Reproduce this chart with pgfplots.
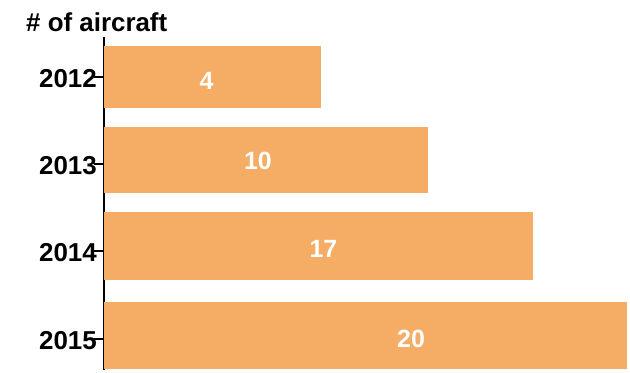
\documentclass[border=0pt]{standalone}
\usepackage{pgfplots}
\pgfplotsset{compat=1.18}
\usepackage{fontspec}
\setmainfont{Liberation Sans}
\definecolor{barc}{HTML}{F5AD66}
\begin{document}
\begin{tikzpicture}
\useasboundingbox (-104bp,-3bp) rectangle (526bp,370bp);
\begin{axis}[
  scale only axis, width=526bp, height=333bp,
  xmin=0, xmax=526, ymin=37, ymax=370, y dir=reverse,
  axis x line=none, axis y line*=left,
  xtick=\empty,
  ytick={77,164,251,339}, yticklabels={2012,2013,2014,2015},
  tick align=outside, major tick length=10bp,
  tick style={line width=2bp, black},
  axis line style={line width=2.5bp, black},
  yticklabel style={font=\fontsize{26}{30}\selectfont\bfseries, inner sep=0pt, xshift=3bp, yshift=-1.5bp},
  clip=false,
]
\addplot[xbar, bar shift=0pt, bar width=62, fill=barc, draw=none] coordinates {(217,77)};
\addplot[xbar, bar shift=0pt, bar width=66, fill=barc, draw=none] coordinates {(324,160)};
\addplot[xbar, bar shift=0pt, bar width=68, fill=barc, draw=none] coordinates {(429,246)};
\addplot[xbar, bar shift=0pt, bar width=67, fill=barc, draw=none] coordinates {(523,335.5)};
\addplot[draw=none, mark=none, nodes near coords, point meta=explicit symbolic,
  every node near coord/.append style={anchor=center, inner sep=0pt, text=white,
  font=\fontsize{25}{30}\selectfont\bfseries}]
  coordinates {(102.5,80.5) [4] (154,161) [10] (219.5,249) [17] (307,339) [20]};
\node[anchor=base west, font=\fontsize{26}{30}\selectfont\bfseries, inner sep=0pt]
  at (axis cs:-78,32) {\# of aircraft};
\end{axis}
\end{tikzpicture}
\end{document}
